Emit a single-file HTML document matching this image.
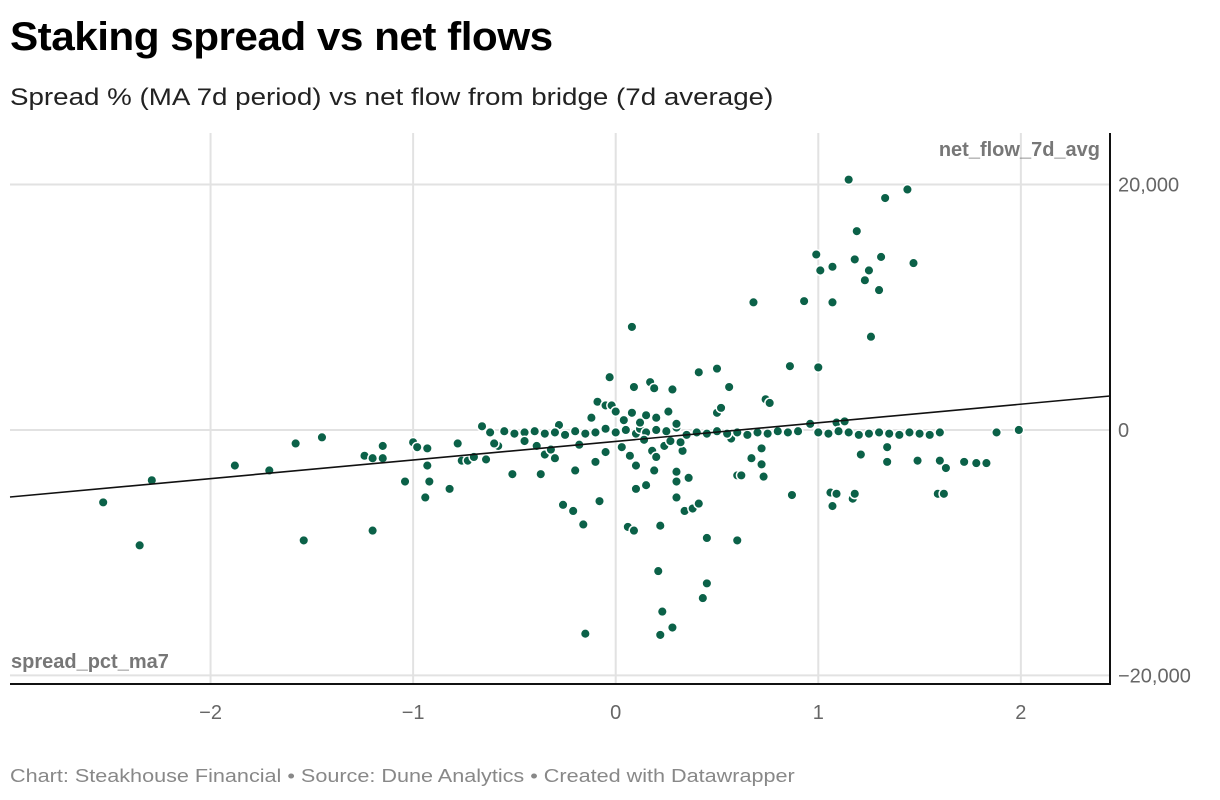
<!DOCTYPE html>
<html><head><meta charset="utf-8"><style>
body{margin:0;background:#fff;font-family:"Liberation Sans",sans-serif;}
#wrap{position:relative;width:1220px;height:800px;overflow:hidden}
h1{position:absolute;left:10px;top:15px;margin:0;font-size:40px;font-weight:bold;color:#000;letter-spacing:-0.5px;transform:scaleX(1.057);transform-origin:0 0;white-space:nowrap}
.sub{position:absolute;left:10px;top:84px;font-size:24px;color:#222;transform:scaleX(1.156);transform-origin:0 0;white-space:nowrap}
.foot{position:absolute;left:10px;top:766px;font-size:18px;color:#888;transform:scaleX(1.2);transform-origin:0 0;white-space:nowrap}
</style></head><body><div id="wrap">
<h1>Staking spread vs net flows</h1>
<div class="sub">Spread % (MA 7d period) vs net flow from bridge (7d average)</div>
<svg id="svg" width="1220" height="800" style="position:absolute;left:0;top:0"></svg>
<div class="foot">Chart: Steakhouse Financial • Source: Dune Analytics • Created with Datawrapper</div>
</div>
<script>
const xs=[-2.53,-2.29,-2.35,-1.88,-1.71,-1.58,-1.45,-1.54,-1.24,-1.2,-1.15,-1.15,-1.2,-1.04,-1.0,-0.98,-0.93,-0.93,-0.94,-0.92,-0.82,-0.78,-0.76,-0.73,-0.70,-0.66,-0.64,-0.58,-0.51,-0.39,-0.37,-0.35,-0.28,-0.26,-0.21,-0.20,-0.16,-0.15,-0.09,-0.08,-0.03,-0.05,-0.02,0.06,0.09,0.08,0.09,0.10,0.15,0.17,0.19,0.19,0.21,0.22,0.23,0.22,0.28,0.28,0.30,0.30,0.30,0.33,0.34,0.36,0.38,0.41,0.41,0.43,0.45,0.45,0.50,0.50,0.52,0.56,0.57,0.60,0.60,0.62,0.67,0.68,0.72,0.72,0.73,0.74,0.76,0.86,0.87,0.93,0.96,0.99,1.00,1.01,1.07,1.06,1.07,1.07,1.09,1.09,1.15,1.13,1.17,1.18,1.18,1.19,1.21,1.23,1.25,1.26,1.30,1.31,1.33,1.34,1.34,1.44,1.47,1.49,1.59,1.62,1.60,1.63,1.72,1.78,1.83,1.88,1.99,
-0.62,-0.55,-0.5,-0.45,-0.4,-0.35,-0.3,-0.25,-0.2,-0.15,-0.1,-0.05,0.0,0.05,0.1,0.12,0.15,0.2,0.25,0.3,0.35,0.4,0.45,0.5,0.55,0.6,0.65,0.7,0.75,0.8,0.85,0.9,1.0,1.05,1.1,1.15,1.2,1.25,1.3,1.35,1.4,1.45,1.5,1.55,1.6,-0.6,-0.45,-0.32,-0.18,-0.05,0.03,0.07,0.14,0.18,0.24,0.27,0.32,0.08,0.15,0.2,0.26,-0.12,0.0,0.04,0.12,0.3,-0.3,-0.1,0.1,0.2];
const ys=[-5.9,-4.1,-9.4,-2.9,-3.3,-1.1,-0.6,-9.0,-2.1,-2.3,-1.3,-2.3,-8.2,-4.2,-1.0,-1.4,-1.5,-2.9,-5.5,-4.2,-4.8,-1.1,-2.5,-2.5,-2.2,0.3,-2.4,-1.3,-3.6,-1.3,-3.6,-2.0,0.4,-6.1,-6.6,-3.3,-7.7,-16.6,2.3,-5.8,4.3,2.0,2.0,-7.9,-8.2,8.4,3.5,-4.8,-4.5,3.9,3.4,-3.3,-11.5,-16.7,-14.8,-7.8,3.3,-16.1,-3.4,-4.2,-5.5,-1.7,-6.6,-3.9,-6.4,4.7,-6.0,-13.7,-8.8,-12.5,5.0,1.4,1.8,3.5,-0.7,-9.0,-3.7,-3.7,-2.3,10.4,-1.5,-2.8,-3.8,2.5,2.2,5.2,-5.3,10.5,0.5,14.3,5.1,13.0,13.3,-5.1,-6.2,10.4,0.6,-5.2,20.4,0.7,-5.6,-5.2,13.9,16.2,-2.0,12.2,13.0,7.6,11.4,14.1,18.9,-2.6,-1.4,19.6,13.6,-2.5,-5.2,-5.2,-2.5,-3.1,-2.6,-2.7,-2.7,-0.2,0.0,
-0.2,-0.1,-0.3,-0.2,-0.1,-0.3,-0.2,-0.4,-0.1,-0.3,-0.2,0.1,-0.2,0.0,-0.3,0.1,-0.2,0.0,-0.1,0.2,-0.4,-0.2,-0.3,-0.1,-0.3,-0.2,-0.4,-0.2,-0.3,-0.1,-0.2,-0.1,-0.2,-0.3,-0.1,-0.2,-0.4,-0.3,-0.2,-0.3,-0.4,-0.2,-0.3,-0.4,-0.2,-1.1,-0.9,-1.6,-1.2,-1.8,-1.4,-2.1,-0.8,-1.7,-1.3,-0.9,-1.0,1.4,1.2,1.0,1.5,1.0,1.5,0.8,0.6,0.5,-2.3,-2.6,-2.9,-2.2];
const xTicks=[-2,-1,0,1,2];
const xTickLabels=["\u22122","\u22121","0","1","2"];
const yTicks=[20000,0,-20000];
const yTickLabels=["20,000","0","\u221220,000"];
const trend=[-0.93,1.516]; // intercept (thousands), slope
const L=10,R=1110,T=133,B=684,x0=-2.99,x1=2.44,y0=-20.7,y1=24.2;
const X=v=>L+(v-x0)/(x1-x0)*(R-L);
const Y=v=>B-(v-y0)/(y1-y0)*(B-T);
const svg=document.getElementById('svg');const NS='http://www.w3.org/2000/svg';
function mk(t,a){const e=document.createElementNS(NS,t);for(const k in a)e.setAttribute(k,a[k]);svg.appendChild(e);return e;}
xTicks.forEach((t,i)=>{const g=mk('line',{x1:X(t),x2:X(t),y1:T,y2:B,stroke:'#e2e2e2','stroke-width':2});


const l=mk('text',{x:X(t),y:719,'text-anchor':'middle','font-size':20,fill:'#666'});l.textContent=xTickLabels[i];

});
yTicks.forEach((t,i)=>{const y=Y(t/1000);const g=mk('line',{x1:L,x2:R,y1:y,y2:y,stroke:'#e2e2e2','stroke-width':2});


const l=mk('text',{x:1118,y:y+7,'font-size':20,fill:'#666'});l.textContent=yTickLabels[i];

});
const yt=mk('text',{x:1100,y:156,'text-anchor':'end','font-size':20,'font-weight':'bold',fill:'#777'});yt.textContent='net_flow_7d_avg';


const xt=mk('text',{x:11,y:668,'font-size':20,'font-weight':'bold',fill:'#777'});xt.textContent='spread_pct_ma7';


xs.forEach((v,i)=>{const c=mk('circle',{cx:X(v),cy:Y(ys[i]),r:4.8,fill:'#0b6148',stroke:'#fff','stroke-width':1.5});

});
const tl=mk('line',{x1:X(x0),y1:Y(trend[0]+trend[1]*x0),x2:X(x1),y2:Y(trend[0]+trend[1]*x1),stroke:'#111','stroke-width':1.6});


const ax=mk('line',{x1:R,x2:R,y1:T,y2:B,stroke:'#111','stroke-width':2});


const bx=mk('line',{x1:L,x2:R+1,y1:B,y2:B,stroke:'#111','stroke-width':2});


</script></body></html>
